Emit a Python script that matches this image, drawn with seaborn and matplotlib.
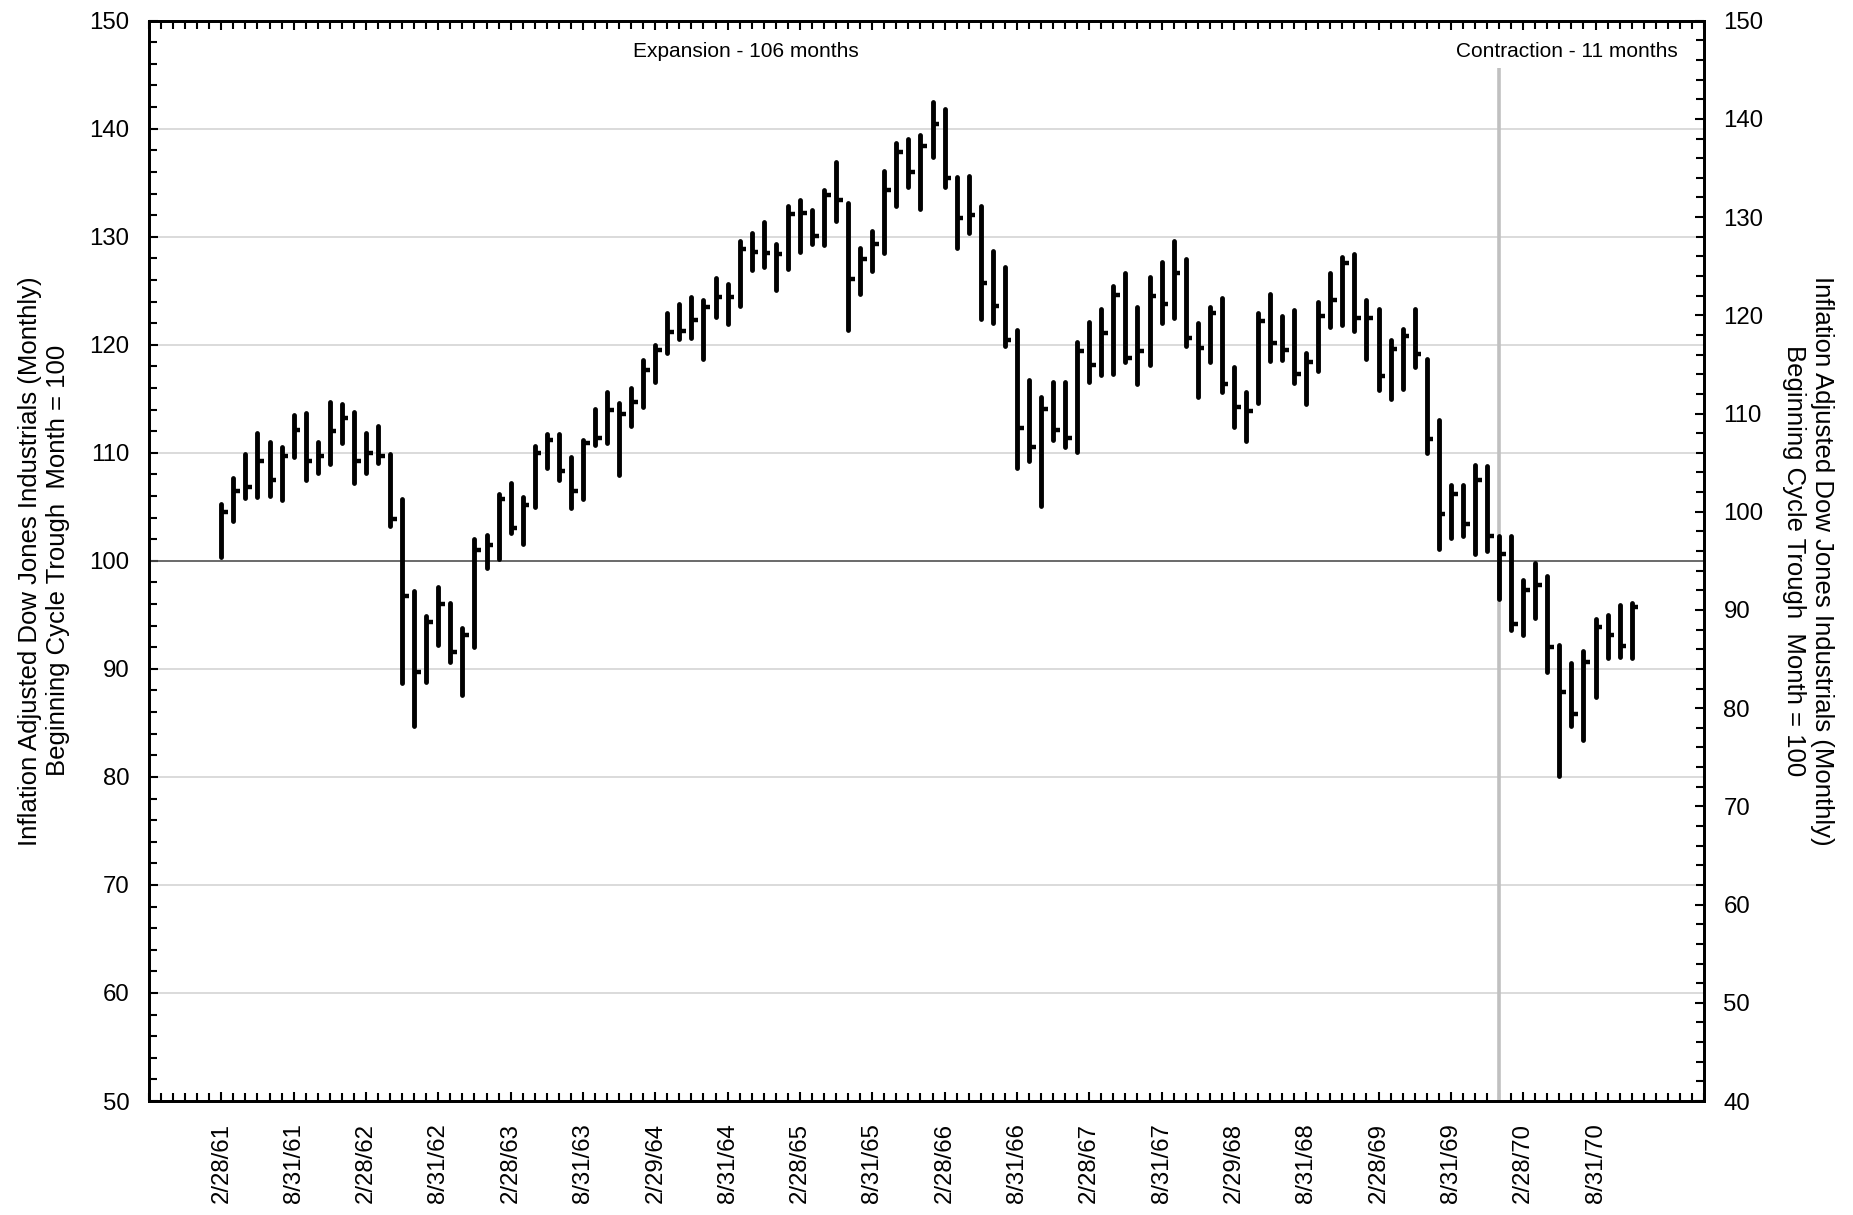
import matplotlib
matplotlib.use("Agg")
import matplotlib.pyplot as plt
import numpy as np
import seaborn as sns

# monthly bars, Feb 1961 (trough) .. Nov 1970 (trough)
high = [105.3, 107.7, 109.9, 111.8, 111.0, 110.5, 113.5, 113.7, 111.0, 114.7,
        114.5, 113.8, 111.8, 112.5, 109.9, 105.7, 97.2, 94.9, 97.6, 96.1,
        93.8, 102.0, 102.4, 106.2, 107.2, 105.9, 110.6, 111.7, 111.7, 109.6,
        111.2, 114.1, 115.6, 114.6, 116.0, 118.6, 120.0, 122.9, 123.8, 124.4,
        124.1, 126.2, 125.6, 129.6, 130.3, 131.4, 129.3, 132.8, 133.4, 132.5,
        134.3, 136.9, 133.1, 129.0, 130.5, 136.1, 138.7, 139.0, 139.4, 142.5,
        141.8, 135.5, 135.6, 132.8, 128.7, 127.2, 121.4, 116.7, 115.2, 116.6,
        116.6, 120.3, 122.1, 123.3, 125.4, 126.6, 123.5, 126.3, 127.7, 129.6,
        127.9, 122.0, 123.5, 124.3, 117.9, 115.6, 122.9, 124.7, 122.7, 123.2,
        119.2, 124.0, 126.6, 128.1, 128.4, 124.1, 123.3, 120.4, 121.5, 123.3,
        118.7, 113.0, 107.0, 107.0, 108.9, 108.8, 102.3, 102.3, 98.2, 99.8,
        98.6, 92.2, 90.5, 91.7, 94.6, 95.0, 95.9, 96.1]
low = [100.4, 103.7, 105.8, 105.9, 106.0, 105.6, 109.6, 107.5, 108.1, 109.0,
       110.9, 107.2, 108.1, 109.1, 103.2, 88.7, 84.7, 88.8, 92.2, 90.6,
       87.6, 92.0, 99.3, 100.2, 102.6, 101.6, 105.0, 108.6, 107.5, 104.9,
       105.7, 110.7, 110.9, 107.9, 112.5, 114.2, 116.6, 119.2, 120.5, 120.6,
       118.7, 122.6, 121.9, 123.6, 126.9, 127.2, 125.1, 127.0, 128.6, 129.3,
       129.2, 131.5, 121.4, 124.7, 126.8, 128.5, 132.8, 134.6, 132.6, 137.4,
       134.6, 129.0, 130.3, 122.4, 122.0, 119.9, 108.6, 109.2, 105.1, 111.2,
       110.5, 110.1, 116.6, 117.2, 117.3, 118.4, 116.4, 118.1, 122.0, 122.5,
       119.9, 115.2, 118.4, 115.6, 112.4, 111.1, 114.6, 118.5, 118.6, 116.5,
       114.5, 117.6, 121.6, 121.8, 121.3, 118.7, 115.8, 115.0, 115.9, 117.9,
       110.0, 101.1, 102.1, 102.3, 100.6, 100.9, 96.5, 93.6, 93.1, 94.7,
       89.7, 80.1, 84.7, 83.4, 87.4, 91.0, 91.1, 91.0]
close = [104.5, 106.5, 106.8, 109.2, 107.5, 109.7, 112.1, 109.2, 109.7, 112.0,
         113.2, 109.2, 110.0, 109.7, 103.9, 96.7, 89.7, 94.3, 96.0, 91.6,
         93.1, 101.0, 101.5, 105.7, 103.0, 105.2, 110.0, 111.2, 108.3, 106.5,
         110.9, 111.4, 114.0, 113.6, 114.7, 117.7, 119.5, 121.2, 121.3, 122.3,
         123.5, 124.4, 124.4, 128.9, 128.6, 128.5, 128.4, 132.1, 132.2, 130.1,
         133.9, 133.4, 126.1, 127.9, 129.3, 134.3, 137.8, 136.0, 138.4, 140.4,
         135.4, 131.7, 132.0, 125.7, 123.6, 120.4, 112.3, 110.5, 114.1, 112.1,
         111.4, 119.4, 118.1, 121.1, 124.6, 118.8, 119.4, 124.5, 123.8, 126.6,
         120.6, 119.7, 122.9, 116.4, 114.2, 113.9, 122.2, 120.2, 119.5, 117.3,
         118.4, 122.7, 124.1, 127.6, 122.5, 122.5, 117.1, 119.6, 120.8, 119.1,
         111.3, 104.3, 106.2, 103.4, 107.5, 102.3, 100.6, 94.2, 97.3, 97.8,
         92.0, 87.9, 85.8, 90.6, 93.9, 93.1, 92.1, 95.7]

tick_labels = ['2/28/61', '8/31/61', '2/28/62', '8/31/62', '2/28/63', '8/31/63',
               '2/29/64', '8/31/64', '2/28/65', '8/31/65', '2/28/66', '8/31/66',
               '2/28/67', '8/31/67', '2/29/68', '8/31/68', '2/28/69', '8/31/69',
               '2/28/70', '8/31/70']
peak_month = 106  # 12/31/69
phase_text = ['Expansion - 106 months', 'Contraction - 11 months']

sns.set_style("ticks")
plt.rcParams['font.family'] = ['Liberation Sans', 'DejaVu Sans']
plt.rcParams.update({'text.color': 'black', 'axes.labelcolor': 'black',
                     'xtick.color': 'black', 'ytick.color': 'black'})

fig = plt.figure(figsize=(18.53, 12.15), dpi=100)
ax = fig.add_axes([0.0804, 0.0938, 0.8392, 0.8892])

x = np.arange(len(high))

for v in range(60, 150, 10):
    if v != 100:
        ax.axhline(v, color='#d4d4d4', lw=1.2, zorder=0)
ax.axhline(100, color='#505050', lw=1.2, zorder=1)
ax.vlines(peak_month, 50, 145.6, color='#c0c0c0', lw=2.6, zorder=1)

ax.vlines(x, low, high, color='black', lw=3.5, capstyle='round', zorder=3)
ax.hlines(close, x, x + 0.55, color='black', lw=3.2, zorder=3)

ax.text(43.5, 147.1, phase_text[0], ha='center', va='center', fontsize=15)
ax.text(111.6, 147.1, phase_text[1], ha='center', va='center', fontsize=15)

ax.set_xlim(-6, 123)
ax.set_ylim(50, 150)
ax.set_xticks(np.arange(0, len(high), 6))
ax.set_xticklabels(tick_labels, rotation=90, fontsize=17.3)
ax.set_xticks(np.arange(-6, 124), minor=True)
ax.set_yticks(np.arange(50, 151, 10))
ax.set_yticks(np.arange(50, 151, 2), minor=True)
ax.tick_params(axis='y', labelsize=17.3)
ax.tick_params(which='both', direction='in', top=True, bottom=True,
               left=True, right=False, width=1.5, color='black')
ax.tick_params(which='major', length=6.5)
ax.tick_params(which='minor', length=5.5)
ax.tick_params(axis='x', pad=16)
ax.tick_params(axis='y', pad=14)

ax2 = ax.twinx()
ax2.set_ylim(40, 150)
ax2.set_yticks(np.arange(40, 151, 10))
ax2.set_yticks(np.arange(40, 151, 2), minor=True)
ax2.tick_params(which='both', direction='in', right=True, left=False,
                width=1.5, color='black', labelsize=17.3, pad=14)
ax2.tick_params(which='major', length=6.5)
ax2.tick_params(which='minor', length=5.5)

for a in (ax, ax2):
    for s in a.spines.values():
        s.set_linewidth(2)
        s.set_color('black')

ylab = 'Inflation Adjusted Dow Jones Industrials (Monthly)\nBeginning Cycle Trough  Month = 100'
ax.set_ylabel(ylab, fontsize=18.5, linespacing=1.2)
ax.yaxis.set_label_coords(-0.051, 0.5)
ax2.set_ylabel(ylab, fontsize=18.5, rotation=270, va='bottom', linespacing=1.2)
ax2.yaxis.set_label_coords(1.05, 0.5)

fig.savefig('out.png', dpi=100)
